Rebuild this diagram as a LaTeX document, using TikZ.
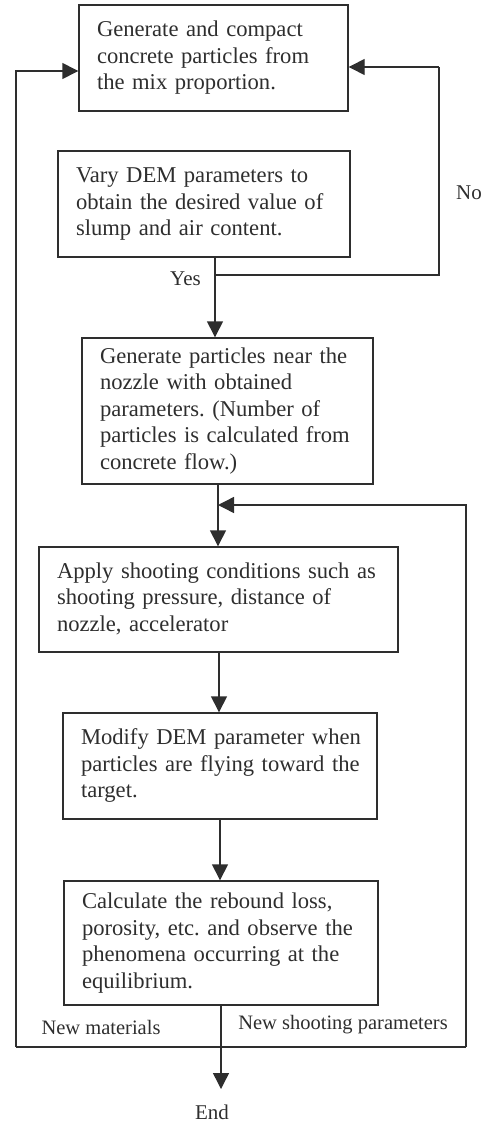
\documentclass[tikz,border=0pt]{standalone}
\usepackage{fontspec}
\setmainfont{Liberation Serif}
\usetikzlibrary{arrows.meta}
\definecolor{ink}{gray}{0.18}
\frenchspacing
\newcommand{\boxlines}[1]{\begin{tabular}{@{}l@{}}#1\end{tabular}}
\begin{document}
\begin{tikzpicture}[x=1pt,y=-1pt,
  box/.style={draw=ink, line width=1.4pt, text=ink, font=\fontsize{22.6}{26.5}\selectfont,
    align=left, inner xsep=18pt, inner ysep=0pt, anchor=center},
  line/.style={draw=ink, line width=1.4pt},
  flow/.style={line, -{Triangle[width=16pt,length=16pt]}},
  lab/.style={text=ink, font=\fontsize{21}{24}\selectfont, inner sep=0pt},
  labs/.style={text=ink, font=\fontsize{20.5}{24}\selectfont, inner sep=0pt}]
\useasboundingbox (0,0) rectangle (486,1122);

\node[box, minimum width=269pt, minimum height=106pt, text width=233pt] (b1) at (213.5,58)
  {\boxlines{Generate and compact\\concrete particles from\\the mix proportion.}};
\node[box, minimum width=292pt, minimum height=106pt, text width=256pt] (b2) at (204,204)
  {\boxlines{Vary DEM parameters to\\obtain the desired value of\\slump and air content.}};
\node[box, minimum width=291pt, minimum height=146pt, text width=255pt] (b3) at (227.5,411)
  {\boxlines{Generate particles near the\\nozzle with obtained\\parameters. (Number of\\particles is calculated from\\concrete flow.)}};
\node[box, minimum width=359pt, minimum height=105pt, text width=323pt] (b4) at (218.5,599.5)
  {\boxlines{Apply shooting conditions such as\\shooting pressure, distance of\\nozzle, accelerator}};
\node[box, minimum width=314pt, minimum height=106pt, text width=278pt] (b5) at (220,766)
  {\boxlines{Modify DEM parameter when\\particles are flying toward the\\target.}};
\node[box, minimum width=314pt, minimum height=124pt, text width=278pt] (b6) at (221,943)
  {\boxlines{Calculate the rebound loss,\\porosity, etc. and observe the\\phenomena occurring at the\\equilibrium.}};

\coordinate (yes) at (215,275);
\coordinate (noC) at (439,275);
\coordinate (noT) at (439,67);
\coordinate (join) at (218,505);
\coordinate (c45) at (219,0);
\coordinate (c56) at (220,0);
\coordinate (rb) at (466,1047);
\coordinate (rt) at (466,505);
\coordinate (lb) at (16,1047);
\coordinate (lt) at (16,71);
\coordinate (mid) at (221,1047);
\coordinate (endtip) at (221,1089);

\node[lab, anchor=east] (yeslab) at (201,279) {Yes};
\node[lab] (nolab) at (469,193) {No};
\node[labs] (newmat) at (101,1027) {New materials};
\node[labs] (newshoot) at (343,1025) {New shooting parameters};
\node[lab] (end) at (212,1112) {End};

\draw[line] (b2.south -| yes) -- (yes);
\draw[flow] (yes) -- (b3.north -| yes);
\draw[line] (yes) -- (noC) -- (noT);
\draw[flow] (noT) -- (b1.east |- noT);

\draw[flow] (b3.south -| join) -- (b4.north -| join);
\draw[flow] (rb) -- (rt) -- (join);
\draw[flow] (b4.south -| c45) -- (b5.north -| c45);
\draw[flow] (b5.south -| c56) -- (b6.north -| c56);
\draw[flow] (b6.south -| mid) -- (endtip);

\draw[line] (lb) -- (rb);
\draw[flow] (lb) -- (lt) -- (b1.west |- lt);
\end{tikzpicture}
\end{document}
